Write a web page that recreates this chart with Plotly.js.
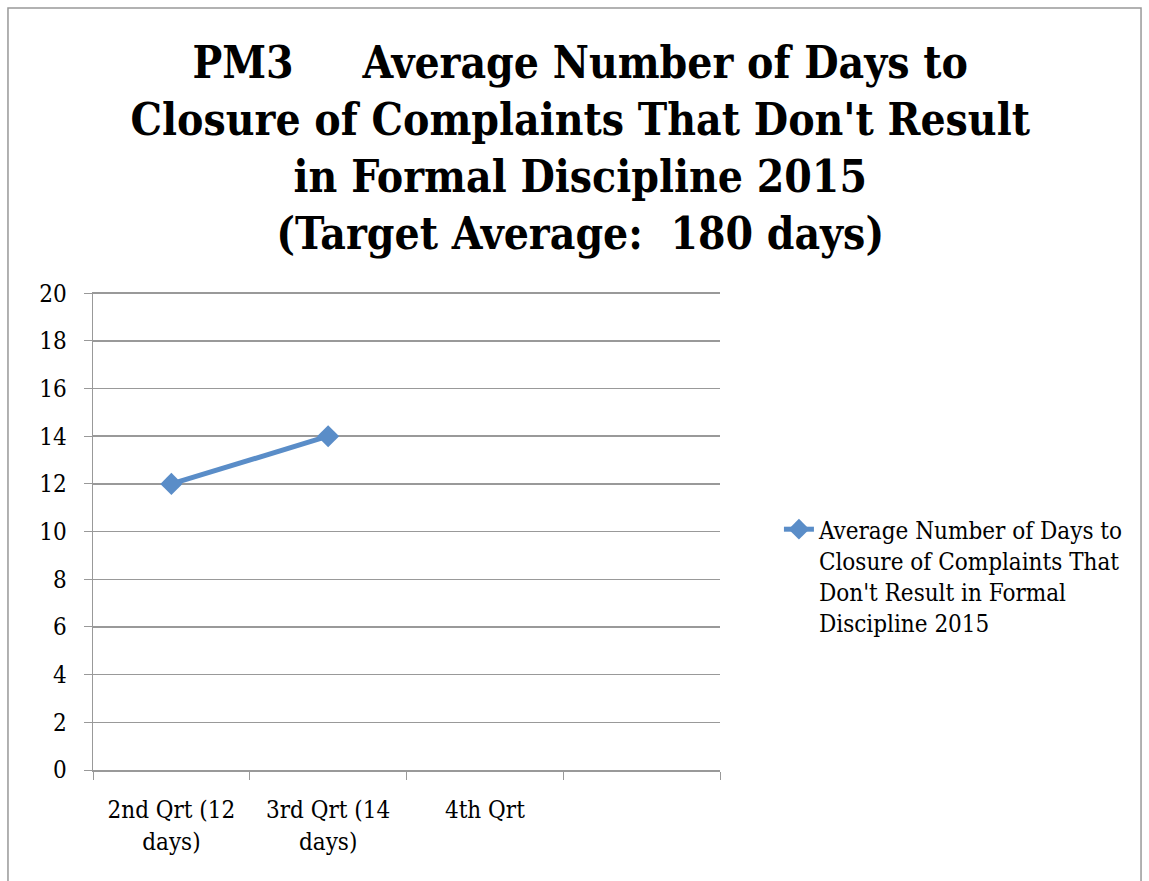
<!DOCTYPE html>
<html>
<head>
<meta charset="utf-8">
<script src="https://cdn.plot.ly/plotly-3.0.1.min.js"></script>
<style>
  body { margin: 0; background: #fff; }
  #chart { width: 1149px; height: 881px; }
</style>
</head>
<body>
<div id="chart"></div>
<script>
const quarters = ['2nd Qrt (12<br>days)', '3rd Qrt (14<br>days)', '4th Qrt', ' '];
const avgDays = [12, 14, null, null];
const seriesName = "Average Number of Days to<br>Closure of Complaints That<br>Don't Result in Formal<br>Discipline 2015";
const yTicks = [0, 2, 4, 6, 8, 10, 12, 14, 16, 18, 20];

const serif = 'DejaVu Serif Condensed, DejaVu Serif, serif';
const gray = '#999999';

const trace = {
    x: quarters,
    y: avgDays,
    type: 'scatter',
    mode: 'lines+markers',
    name: seriesName,
    line: { color: '#5A8DC8', width: 5 },
    marker: { symbol: 'diamond', size: 17, color: '#5A8DC8' },
    connectgaps: false
};

const layout = {
    width: 1149,
    height: 881,
    margin: { l: 93, r: 429, t: 292, b: 111 },
    paper_bgcolor: '#ffffff',
    plot_bgcolor: '#ffffff',
    font: { family: serif, size: 24, color: '#000' },
    title: {
        text: "PM3     Average Number of Days to<br>Closure of Complaints That Don't Result<br>in Formal Discipline 2015<br>(Target Average:  180 days)",
        font: { family: serif, size: 44, color: '#000', weight: 'bold' },
        x: 0.505,
        xanchor: 'center',
        y: 0.912,
        yanchor: 'top'
    },
    xaxis: {
        type: 'category',
        tickson: 'boundaries',
        ticks: 'outside',
        ticklen: 8,
        tickcolor: gray,
        showline: true,
        linecolor: gray,
        linewidth: 1.5,
        showgrid: false,
        tickfont: { family: serif, size: 24 },
        ticklabelstandoff: 18,
        range: [-0.5, 3.5],
        fixedrange: true
    },
    yaxis: {
        range: [0, 20.05],
        tickvals: yTicks,
        ticks: 'outside',
        ticklen: 8,
        tickcolor: gray,
        showline: true,
        linecolor: gray,
        linewidth: 1.5,
        gridcolor: gray,
        gridwidth: 1.5,
        zeroline: false,
        tickfont: { family: serif, size: 24 },
        ticklabelstandoff: 12,
        fixedrange: true
    },
    showlegend: true,
    legend: {
        x: 1.094,
        xanchor: 'left',
        y: 0.55,
        yanchor: 'top',
        valign: 'top',
        font: { family: serif, size: 24 },
        bgcolor: 'rgba(0,0,0,0)'
    },
    shapes: [{
        type: 'rect', xref: 'paper', yref: 'paper',
        x0: -0.1356, x1: 1.6715, y0: -0.24, y1: 1.594,
        line: { color: gray, width: 1.5 }
    }]
};

Plotly.newPlot('chart', [trace], layout, { displayModeBar: false, staticPlot: true });
</script>
</body>
</html>
